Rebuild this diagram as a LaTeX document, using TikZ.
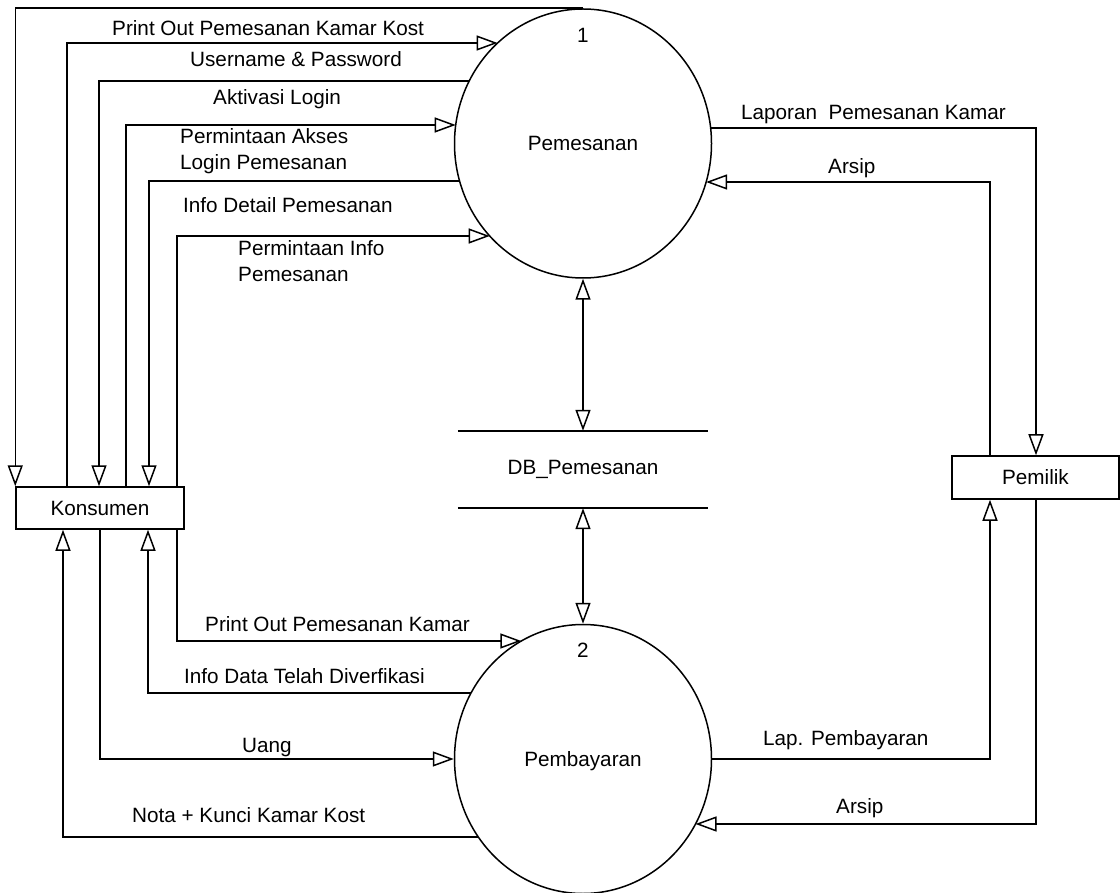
\documentclass[tikz,border=0pt]{standalone}
\usepackage{fontspec}
\setmainfont{Liberation Sans}
\usetikzlibrary{arrows.meta,shapes.geometric,calc}
\begin{document}
\begin{tikzpicture}[x=1pt,y=-1pt,
  every node/.style={font=\fontsize{20.7}{26}\selectfont},
  proc/.style={ellipse,draw,line width=1.5pt,minimum width=257pt,minimum height=269pt,inner sep=0pt,text depth=0pt},
  ent/.style={rectangle,draw,line width=1.5pt,inner sep=0pt},
  store/.style={rectangle,inner sep=0pt,minimum width=250pt,minimum height=77pt},
  flow/.style={line width=1.5pt,-{Triangle[open,length=21pt,width=15pt]}},
  both/.style={line width=1.5pt,{Triangle[open,length=21pt,width=15pt]}-{Triangle[open,length=21pt,width=15pt]}},
  lbl/.style={anchor=base west,inner sep=0pt,align=left},
  num/.style={anchor=base,inner sep=0pt}]
\useasboundingbox (0,0) rectangle (1120,893);
\fill[white] (0,0) rectangle (1120,893);

% nodes
\node[proc] (c1) at (583,143.5) {Pemesanan};
\node[proc] (c2) at (583,759) {Pembayaran};
\node[num] (n1) at ($(c1.north)+(0,34)$) {1};
\node[num] (n2) at ($(c2.north)+(0,34)$) {2};
\node[ent,minimum width=168pt,minimum height=42pt] (kons) at (100,508) {Konsumen};
\node[ent,minimum width=167pt,minimum height=43pt] (pem) at (1035.5,477.5) {Pemilik};
\node[store] (db) at (583,469.5) {DB\_Pemesanan};
\draw[line width=1.5pt] (db.north west) -- (db.north east);
\draw[line width=1.5pt] (db.south west) -- (db.south east);

% points on process boundaries
\coordinate (a43)  at ($(c1.center)+(-85.4,-100.5)$);
\coordinate (a81)  at ($(c1.center)+(-113.8,-62.5)$);
\coordinate (a125) at ($(c1.center)+(-127.3,-18.5)$);
\coordinate (a181) at ($(c1.center)+(-123.4,37.5)$);
\coordinate (a236) at ($(c1.center)+(-93.3,92.5)$);
\coordinate (r128) at ($(c1.center)+(127.6,-15.5)$);
\coordinate (r182) at ($(c1.center)+(123.1,38.5)$);
\coordinate (b641) at ($(c2.center)+(-61.7,-118)$);
\coordinate (b693) at ($(c2.center)+(-112,-66)$);
\coordinate (b837) at ($(c2.center)+(-104.7,78)$);
\coordinate (s824) at ($(c2.center)+(112.5,65)$);

% Konsumen <-> Pemesanan
\draw[flow] (c1.north) -| (kons.north west);
\draw[flow] (67,0 |- kons.north) |- (a43);
\draw[flow] (a81) -| (99,0 |- kons.north);
\draw[flow] (126,0 |- kons.north) |- (a125);
\draw[flow] (a181) -| (149,0 |- kons.north);
\draw[flow] (177,0 |- kons.north) |- (a236);

% Pemesanan <-> Pemilik
\draw[flow] (r128) -| (1036,0 |- pem.north);
\draw[flow] (990,0 |- pem.north) |- (r182);

% data store
\draw[both] (c1.south) -- (db.north);
\draw[both] (db.south) -- (c2.north);

% Konsumen <-> Pembayaran
\draw[flow] (177,0 |- kons.south) |- (b641);
\draw[flow] (b693) -| (148,0 |- kons.south);
\draw[flow] (100,0 |- kons.south) |- (c2.west);
\draw[flow] (b837) -| (63,0 |- kons.south);

% Pembayaran <-> Pemilik
\draw[flow] (c2.east) -| (990,0 |- pem.south);
\draw[flow] (1036,0 |- pem.south) |- (s824);

% labels
\node[lbl] (t1) at (112,36) {Print Out Pemesanan Kamar Kost};
\node[lbl] (t2) at (190,67) {Username \& Password};
\node[lbl] (t3) at (213,105) {Aktivasi Login};
\node[lbl] (t4) at (180,170) {Permintaan Akses\\Login Pemesanan};
\node[lbl] (t5) at (183,213) {Info Detail Pemesanan};
\node[lbl] (t6) at (238,282) {Permintaan Info\\Pemesanan};
\node[lbl] (t7) at (741,120) {Laporan\ \ Pemesanan Kamar};
\node[lbl] (t8) at (828,174) {Arsip};
\node[lbl] (t9) at (205,631) {Print Out Pemesanan Kamar};
\node[lbl] (t10) at (184,683) {Info Data Telah Diverfikasi};
\node[lbl] (t11) at (242,752) {Uang};
\node[lbl] (t12) at (132,822) {Nota + Kunci Kamar Kost};
\node[lbl] (t13) at (763,745) {Lap. Pembayaran};
\node[lbl] (t14) at (836,813) {Arsip};
\end{tikzpicture}
\end{document}
